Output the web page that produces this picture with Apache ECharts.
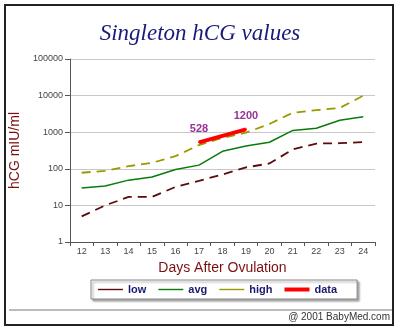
<!DOCTYPE html>
<html>
<head>
<meta charset="utf-8">
<script src="https://cdn.jsdelivr.net/npm/echarts@6/dist/echarts.min.js"></script>
<style>html,body{margin:0;padding:0;background:#fff}#c{width:400px;height:328px}</style>
</head>
<body>
<div id="c"></div>
<script>
var days = ['12','13','14','15','16','17','18','19','20','21','22','23','24'];
var lowVals  = [5, 10, 17, 17, 32, 47, 70, 109, 140, 340, 490, 500, 540];
var avgVals  = [30, 34, 49, 60, 96, 126, 300, 420, 530, 1120, 1280, 2130, 2650];
var highVals = [78, 88, 118, 146, 222, 446, 700, 970, 1680, 3400, 4000, 4600, 10000];
var dataVals = [null, null, null, null, null, 528, null, 1200, null, null, null, null, null];
var yTicks = [1, 10, 100, 1000, 10000, 100000];

var chart = echarts.init(document.getElementById('c'), null, {renderer: 'canvas'});
var thin = 'path://M0,0h25v1.4h-25z';
chart.setOption({
  animation: false,
  backgroundColor: '#fff',
  title: {
    text: 'Singleton hCG values',
    left: 'center', top: 17,
    textStyle: {fontFamily: 'Liberation Serif', fontStyle: 'italic', fontWeight: 'normal', fontSize: 23, color: '#1a1a7a'}
  },
  grid: {left: 59, right: 25, top: 59, bottom: 86, containLabel: false},
  xAxis: {
    type: 'category', data: days, boundaryGap: true,
    name: 'Days After Ovulation', nameLocation: 'middle', nameGap: 19,
    nameTextStyle: {color: '#7a1010', fontSize: 14, fontFamily: 'Arial'},
    axisLine: {lineStyle: {color: '#555'}},
    axisTick: {show: true, length: 4, lineStyle: {color: '#555'}},
    axisLabel: {color: '#444', fontSize: 9, fontFamily: 'Arial', margin: 5},
    splitLine: {show: false}
  },
  yAxis: {
    type: 'log', logBase: 10, min: yTicks[0], max: yTicks[yTicks.length - 1],
    name: 'hCG mIU/ml', nameLocation: 'middle', nameGap: 28, nameRotate: 90,
    nameTextStyle: {color: '#7a1010', fontSize: 14, fontFamily: 'Arial'},
    axisLine: {show: true, lineStyle: {color: '#555'}},
    axisTick: {show: true, length: 5, lineStyle: {color: '#555'}},
    axisLabel: {color: '#444', fontSize: 9, fontFamily: 'Arial', margin: 7,
      formatter: function (v) { return String(Math.round(v)); }},
    splitLine: {show: true, lineStyle: {color: '#c8c8c8', width: 1}},
    minorTick: {show: false}
  },
  legend: {
    left: 91, top: 280,
    padding: [4, 20, 4, 7],
    itemGap: 12, itemWidth: 25, itemHeight: 4,
    borderColor: '#888', borderWidth: 1, backgroundColor: '#fff',
    shadowColor: 'rgba(0,0,0,0.35)', shadowBlur: 2, shadowOffsetX: 2, shadowOffsetY: 2,
    textStyle: {color: '#1a1a6e', fontWeight: 'bold', fontSize: 11, fontFamily: 'Arial', padding: [0, 0, 0, 0]},
    data: [
      {name: 'low', icon: thin},
      {name: 'avg', icon: thin},
      {name: 'high', icon: thin},
      {name: 'data', icon: 'rect'}
    ]
  },
  series: [
    {name: 'low', type: 'line', data: lowVals, symbol: 'none', color: '#5c0a0a',
     lineStyle: {color: '#5c0a0a', width: 1.8, type: [9, 6]}},
    {name: 'avg', type: 'line', data: avgVals, symbol: 'none', color: '#0a7a0a',
     lineStyle: {color: '#0a7a0a', width: 1.5}},
    {name: 'high', type: 'line', data: highVals, symbol: 'none', color: '#9a9a00',
     lineStyle: {color: '#9a9a00', width: 1.8, type: [9, 6]}},
    {name: 'data', type: 'line', data: dataVals, connectNulls: true, symbol: 'circle', symbolSize: 2, showSymbol: true,
     color: '#ff0000', itemStyle: {color: '#ff0000'},
     lineStyle: {color: '#ff0000', width: 4}, z: 5,
     label: {show: true, position: 'top', distance: 7, color: '#993399', fontSize: 11, fontWeight: 'bold', fontFamily: 'Arial'},
     labelLayout: {hideOverlap: false}}
  ],
  graphic: [
    {type: 'rect', shape: {x: 5, y: 5, width: 388, height: 320}, style: {fill: 'none', stroke: '#222', lineWidth: 2}, z: 100},
    {type: 'line', shape: {x1: 9, y1: 310, x2: 393, y2: 310}, style: {stroke: '#777', lineWidth: 1}},
    {type: 'text', right: 10, top: 312, style: {text: '@ 2001 BabyMed.com', fill: '#333', font: '10px Arial'}}
  ]
});
</script>
</body>
</html>
